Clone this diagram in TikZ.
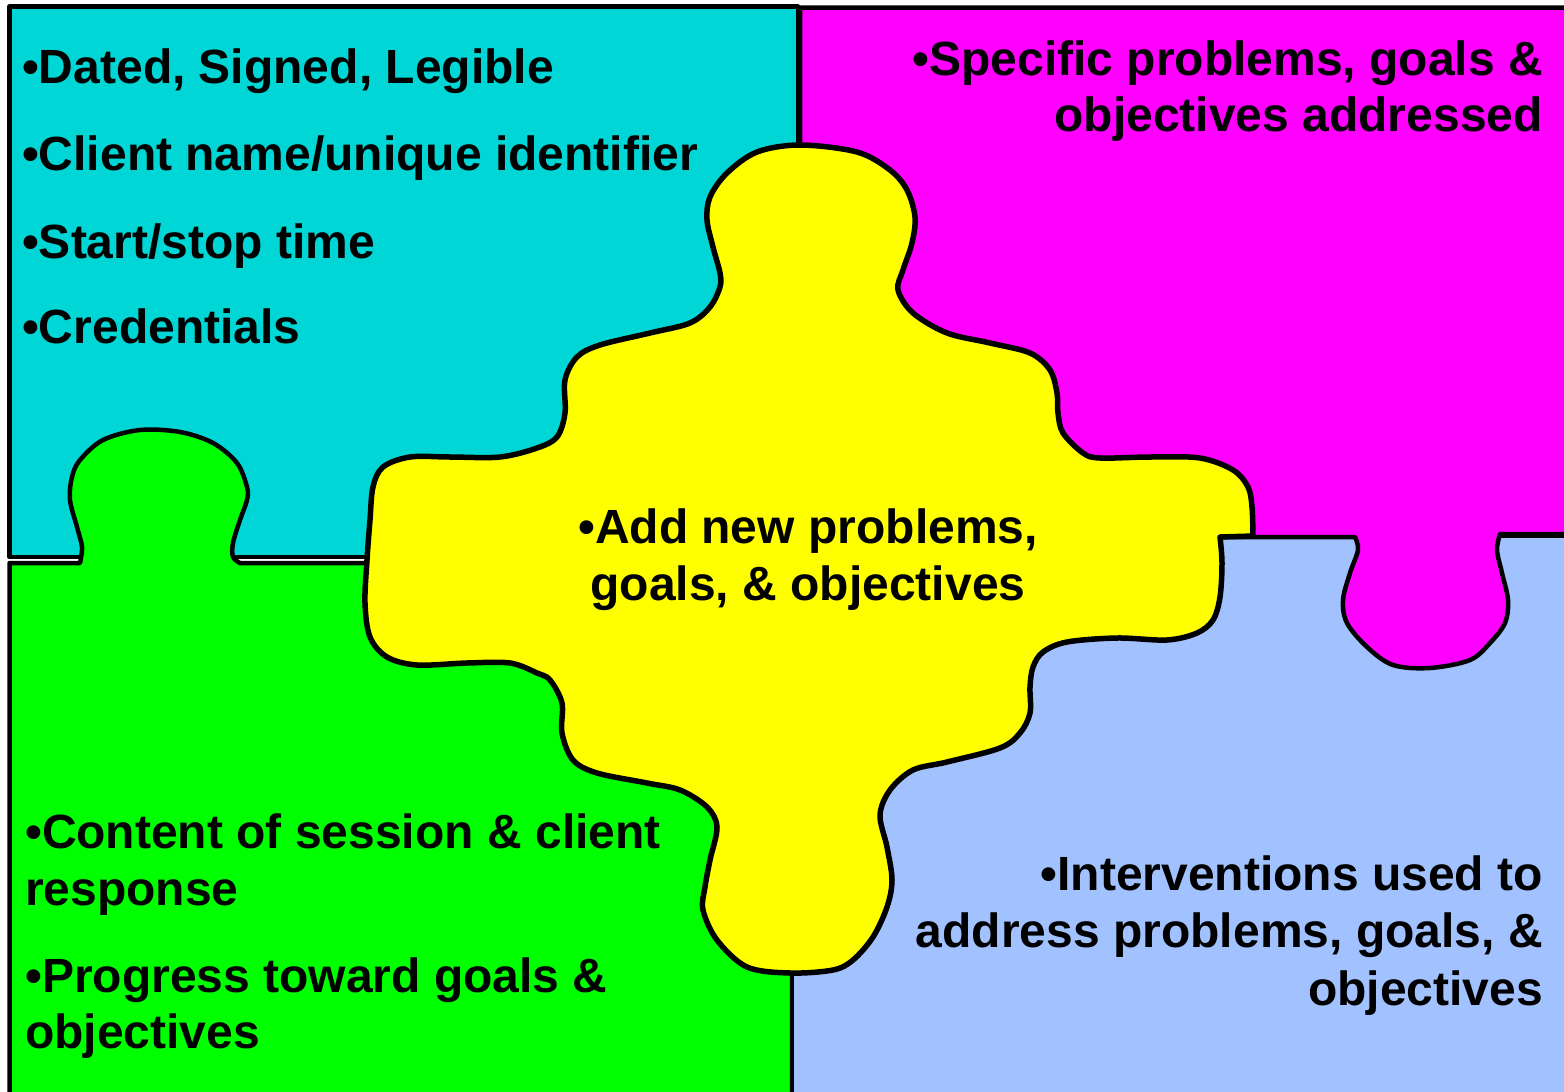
\documentclass[tikz,border=0pt]{standalone}
\usepackage{fontspec}
\setmainfont{Liberation Sans}
\definecolor{pcyan}{RGB}{0,214,214}
\definecolor{pmag}{RGB}{255,0,255}
\definecolor{pgreen}{RGB}{0,255,0}
\definecolor{pyellow}{RGB}{255,255,0}
\definecolor{pblue}{RGB}{162,193,255}
\begin{document}
\begin{tikzpicture}[x=1pt,y=-1pt,line join=round,
  piece/.style={draw=black,line width=4.5pt},
  txt/.style={font=\fontsize{48}{57}\selectfont\bfseries,inner sep=0pt,text=black}]
\clip (0,0) rectangle (1564,1092);
\fill[white] (0,0) rectangle (1564,1092);
% cyan piece
\draw[piece,fill=pcyan] (9.5,6.5) rectangle (798,557);
% green piece with tab
\draw[piece,fill=pgreen] (9.5,563) -- plot[smooth,tension=0.55] coordinates {(80,563) (82,547) (77,527) (70,500) (72,477) (80,460) (103,440) (140,430) (180,432) (213,443) (237,463) (247,487) (247,500) (240,520) (233,543) (233,557) (240,563)} -- (792,563) -- (792,1110) -- (9.5,1110) -- cycle;
% blue piece
\draw[piece,fill=pblue] (792,536) rectangle (1590,1110);
% magenta piece with tab
\draw[piece,fill=pmag] (800,7.5) -- (1590,7.5) -- (1590,534) -- plot[smooth,tension=0.55] coordinates {(1500,534) (1497,550) (1502,573) (1508,600) (1505,623) (1490,643) (1470,660) (1430,668) (1393,665) (1367,647) (1347,623) (1343,600) (1350,573) (1358,550) (1355,537)} -- (800,537) -- cycle;
% yellow piece
\draw[line width=5.5pt,fill=pyellow] (1253,536) -- plot[smooth,tension=0.55] coordinates {(1220,537) (1222,563) (1220,597) (1213,620) (1197,633) (1167,640) (1117,638) (1067,642) (1043,652) (1033,667) (1030,687) (1030,713) (1020,733) (1000,748) (947,762) (913,770) (890,790) (880,815) (887,847) (892,880) (887,907) (873,937) (853,960) (833,970) (790,973) (747,967) (717,940) (703,910) (705,887) (710,860) (717,827) (707,807) (680,790) (647,783) (597,773) (573,760) (562,733) (562,703) (550,680) (537,673) (510,663) (467,663) (417,665) (387,657) (370,637) (365,603) (367,560) (370,520) (373,487) (383,467) (410,457) (450,457) (500,457) (537,448) (557,437) (565,413) (565,380) (577,357) (600,345) (650,333) (690,323) (710,307) (720,287) (720,273) (713,247) (707,220) (710,197) (727,173) (757,152) (800,145) (857,152) (890,170) (907,190) (915,217) (912,243) (903,270) (898,290) (913,313) (947,333) (990,343) (1030,353) (1050,370) (1057,393) (1058,413) (1063,433) (1083,453) (1100,458) (1150,457) (1200,458) (1233,470) (1248,487) (1252,507) (1253,536)} -- cycle;
% texts: cyan
\node[txt,anchor=base west] (c1) at (22,83) {•Dated, Signed, Legible};
\node[txt,anchor=base west] (c2) at (22,170) {•Client name/unique identifier};
\node[txt,anchor=base west] (c3) at (22,258) {•Start/stop time};
\node[txt,anchor=base west] (c4) at (22,343) {•Credentials};
% magenta
\node[txt,anchor=base east] (m1) at (1543,75) {•Specific problems, goals \&};
\node[txt,anchor=base east] (m2) at (1543,131) {objectives addressed};
% yellow
\node[txt,anchor=base] (y1) at (808,543) {•Add new problems,};
\node[txt,anchor=base] (y2) at (808,600) {goals, \& objectives};
% green
\node[txt,anchor=base west] (g1) at (25,848) {•Content of session \& client};
\node[txt,anchor=base west] (g2) at (25,905) {response};
\node[txt,anchor=base west] (g3) at (25,992) {•Progress toward goals \&};
\node[txt,anchor=base west] (g4) at (25,1048) {objectives};
% blue
\node[txt,anchor=base east] (b1) at (1543,890) {•Interventions used to};
\node[txt,anchor=base east] (b2) at (1543,947) {address problems, goals, \&};
\node[txt,anchor=base east] (b3) at (1543,1005) {objectives};
\end{tikzpicture}
\end{document}
